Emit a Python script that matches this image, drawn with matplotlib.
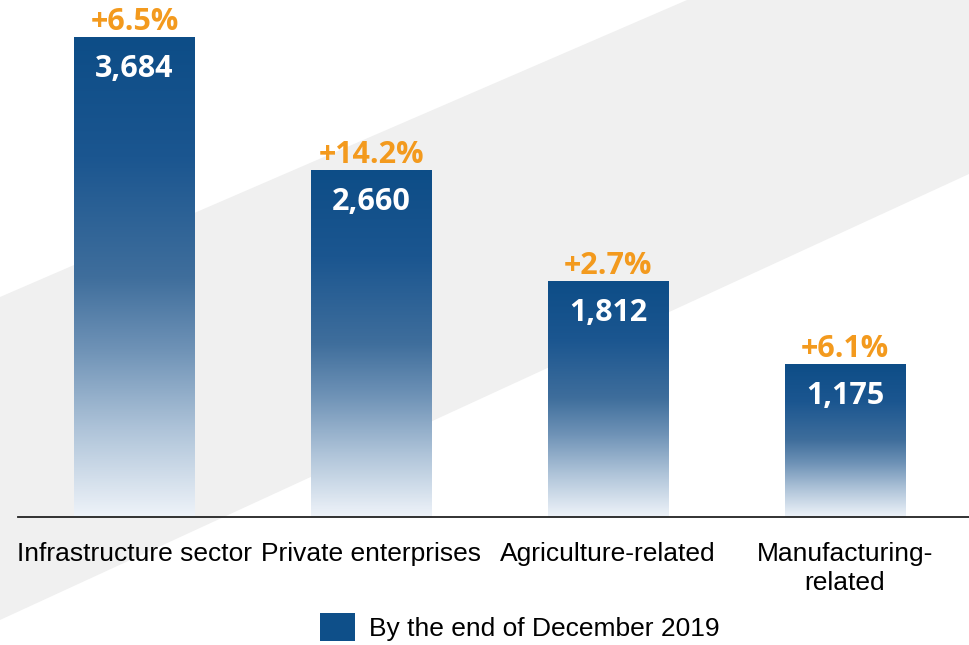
import numpy as np
import matplotlib
matplotlib.use("Agg")
import matplotlib.pyplot as plt
from matplotlib.colors import LinearSegmentedColormap
from matplotlib.patches import Polygon, Patch

categories = ["Infrastructure sector", "Private enterprises", "Agriculture-related", "Manufacturing-\nrelated"]
values = [3684, 2660, 1812, 1175]
growth = ["+6.5%", "+14.2%", "+2.7%", "+6.1%"]
legend_label = "By the end of December 2019"

BLUE = "#0E4F89"
ORANGE = "#F39A1E"
W, H = 969, 645

fig = plt.figure(figsize=(W / 100, H / 100), dpi=100)
fig.patch.set_facecolor("white")

# light grey diagonal band behind the chart
band = Polygon([(0, 1 - 297 / H), (687 / W, 1.0), (1.0, 1.0), (1.0, 1 - 174 / H), (0, 1 - 620 / H)],
               closed=True, transform=fig.transFigure, facecolor="#F0F0F0", edgecolor="none", zorder=-5)
fig.patches.append(band)

ax = fig.add_axes([18 / W, 1 - 517 / H, 1 - 18 / W, 517 / H])
ax.set_zorder(1)
ax.patch.set_alpha(0)

x = np.arange(len(categories))
bw = 0.51

# vertical fade: dark blue at the top of each bar to near white at the base
grad_cmap = LinearSegmentedColormap.from_list(
    "fade", [(0.0, "#EEF3F9"), (0.18, "#AFC4D9"), (0.35, "#6E92B6"), (0.5, "#3F6E9C"),
             (0.75, "#1B5690"), (1.0, "#0D4D87")])
grad = np.linspace(0, 1, 256).reshape(-1, 1)

bars = ax.bar(x, values, width=bw, color="none", edgecolor="none")
for b, v, g in zip(bars, values, growth):
    x0, w = b.get_x(), b.get_width()
    im = ax.imshow(grad, cmap=grad_cmap, origin="lower", aspect="auto",
                   extent=[x0, x0 + w, 0, v], zorder=2)
    im.set_clip_path(b)
    cx = x0 + w / 2
    ax.annotate(f"{v:,}", (cx, v), xytext=(0, -32), textcoords="offset pixels",
                ha="center", va="center", color="white", fontsize=22, fontweight="bold",
                family="Open Sans", zorder=3)
    ax.annotate(g, (cx, v), xytext=(0, 15), textcoords="offset pixels",
                ha="center", va="center", color=ORANGE, fontsize=22, fontweight="bold",
                family="Open Sans", zorder=3)

ax.set_xlim(-0.492, 3.524)
ax.set_ylim(0, 3684 * 517 / 480)

for s in ["top", "right", "left"]:
    ax.spines[s].set_visible(False)
ax.spines["bottom"].set_color("#222222")
ax.spines["bottom"].set_linewidth(1.3)
ax.set_yticks([])
ax.set_xticks(x)
ax.set_xticklabels(categories, fontsize=19, family="Liberation Sans", color="black", linespacing=1.25)
ax.tick_params(axis="x", length=0, pad=18)

handle = Patch(facecolor=BLUE, edgecolor="none")
fig.legend([handle], [legend_label], loc="center", bbox_to_anchor=(520 / W, 1 - 627 / H),
           frameon=False, prop={"family": "Liberation Sans", "size": 19},
           handlelength=1.3, handleheight=1.3, handletextpad=0.55)

fig.savefig("out.png", dpi=100, facecolor="white")
